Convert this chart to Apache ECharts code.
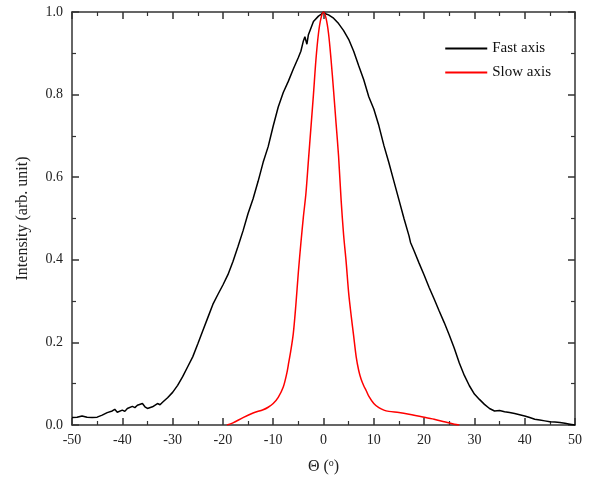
<!DOCTYPE html>
<html><head><meta charset="utf-8">
<script src="https://cdn.jsdelivr.net/npm/echarts@6/dist/echarts.min.js"></script>
<style>html,body{margin:0;padding:0;background:#fff}#c{width:594px;height:482px}</style>
</head><body><div id="c"></div>
<script>
const xTicks = [-50,-40,-30,-20,-10,0,10,20,30,40,50];
const yTicks = [0.0,0.2,0.4,0.6,0.8,1.0];
const fastX = [-50,-49,-48,-47,-46,-45,-44,-43,-42,-41.5,-41,-40,-39.5,-39,-38,-37.5,-37,-36,-35.5,-35,-34,-33,-32.5,-32,-31,-30,-29,-28,-27,-26,-25,-24,-23,-22,-21,-20,-19,-18,-17,-16,-15,-14,-13,-12,-11,-10,-9,-8,-7,-6,-5,-4.5,-4,-3.7,-3.3,-3,-2,-1,-0.5,0,0.5,1,2,3,4,5,6,7,8,9,10,11,12,13,14,15,16,17,17.3,18,19,20,21,22,23,24,25,26,27,28,29,30,31,32,33,34,35,36,37,38,39,40,41,42,43,44,45,46,47,48,49,50];
const fastY = [0.018,0.019,0.022,0.019,0.018,0.019,0.024,0.030,0.034,0.038,0.031,0.036,0.033,0.040,0.045,0.042,0.048,0.052,0.044,0.040,0.044,0.052,0.049,0.055,0.066,0.079,0.096,0.117,0.141,0.165,0.196,0.228,0.260,0.292,0.316,0.339,0.364,0.396,0.432,0.470,0.512,0.548,0.590,0.636,0.674,0.724,0.770,0.805,0.832,0.862,0.890,0.905,0.930,0.940,0.922,0.945,0.977,0.990,0.994,1.0,0.995,0.993,0.985,0.972,0.955,0.934,0.905,0.870,0.836,0.795,0.765,0.725,0.677,0.635,0.590,0.545,0.500,0.458,0.442,0.422,0.392,0.363,0.333,0.305,0.276,0.248,0.218,0.186,0.150,0.120,0.095,0.075,0.062,0.050,0.040,0.034,0.035,0.032,0.030,0.028,0.025,0.022,0.018,0.014,0.012,0.010,0.008,0.007,0.006,0.004,0.002,0.0];
const slowX = [-19.2,-18,-16,-14,-12,-11,-10,-9,-8,-7.3,-7,-6.5,-6,-5.5,-5,-4.5,-4,-3.5,-3,-2.5,-2,-1.5,-1,-0.5,0,0.5,1,1.5,2,2.5,3,3.5,4,4.5,5,5.5,6,6.5,7,7.5,8,8.5,9,10,11,12,13,15,17,20,22,24,26,27];
const slowY = [0,0.005,0.018,0.029,0.037,0.043,0.052,0.067,0.092,0.125,0.145,0.18,0.222,0.29,0.37,0.44,0.504,0.56,0.64,0.72,0.80,0.885,0.948,0.985,1.0,0.985,0.948,0.885,0.81,0.73,0.65,0.545,0.46,0.395,0.32,0.265,0.215,0.165,0.132,0.11,0.095,0.083,0.07,0.052,0.042,0.036,0.033,0.030,0.026,0.019,0.014,0.008,0.002,0];
const seriesNames = ['Fast axis','Slow axis'];

const FONT = 'Liberation Serif';
const TXT = '#222';
const chart = echarts.init(document.getElementById('c'));
const axisLine = {show:true, onZero:false, lineStyle:{color:'#333', width:1.5}};
const mkX = (pos, labels) => ({
  type:'value', position:pos, min:-50, max:50, interval:10,
  axisLine, axisTick:{show:true, inside:true, length:7, lineStyle:{color:'#333', width:1.5}},
  minorTick:{show:true, splitNumber:2, length:4, lineStyle:{color:'#333', width:1.2}},
  splitLine:{show:false},
  axisLabel:{show:labels, fontFamily:FONT, fontSize:14, color:TXT, margin:8}
});
const mkY = (pos, labels) => ({
  type:'value', position:pos, min:0, max:1, interval:0.2,
  axisLine, axisTick:{show:true, inside:true, length:7, lineStyle:{color:'#333', width:1.5}},
  minorTick:{show:true, splitNumber:2, length:4, lineStyle:{color:'#333', width:1.2}},
  splitLine:{show:false},
  axisLabel:{show:labels, fontFamily:FONT, fontSize:14, color:TXT, margin:9, formatter:v=>v.toFixed(1)}
});
const xa = mkX('bottom', true);
xa.name = '{t|Θ (}{s|o}{t|)}';
xa.nameLocation = 'middle';
xa.nameGap = 33;
xa.nameTextStyle = {rich:{t:{fontFamily:FONT, fontSize:16, color:TXT}, s:{fontFamily:FONT, fontSize:10, color:TXT, verticalAlign:'top', padding:[0,0,8,0]}}};
const ya = mkY('left', true);
ya.name = 'Intensity (arb. unit)';
ya.nameLocation = 'middle';
ya.nameGap = 41;
ya.nameTextStyle = {fontFamily:FONT, fontSize:16, color:TXT};

chart.setOption({
  animation:false,
  backgroundColor:'#fff',
  grid:{left:72, right:19, top:12, bottom:57},
  legend:{
    orient:'vertical', right:38, top:36, itemWidth:42, itemHeight:2, itemGap:9,
    icon:'rect',
    textStyle:{fontFamily:FONT, fontSize:15, color:'#111'},
    data:seriesNames
  },
  xAxis:[xa, mkX('top', false)],
  yAxis:[ya, mkY('right', false)],
  series:[
    {name:seriesNames[0], type:'line', showSymbol:false, lineStyle:{color:'#000', width:1.5}, itemStyle:{color:'#000'},
     data:fastX.map((x,i)=>[x, fastY[i]])},
    {name:seriesNames[1], type:'line', showSymbol:false, smooth:0.3, lineStyle:{color:'#ff0000', width:1.5}, itemStyle:{color:'#ff0000'},
     data:slowX.map((x,i)=>[x, slowY[i]])}
  ]
});
</script></body></html>
